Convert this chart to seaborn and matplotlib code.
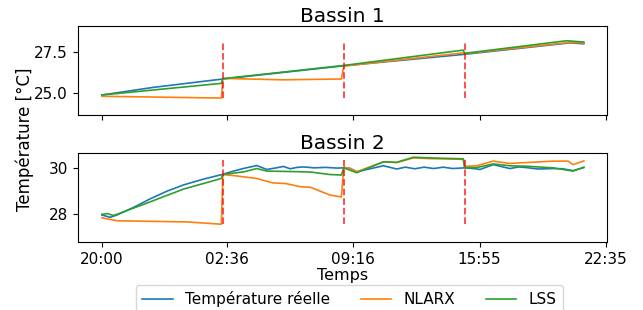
import numpy as np
import pandas as pd
import matplotlib
matplotlib.use("Agg")
import matplotlib.pyplot as plt
import seaborn as sns

# time axis: hours elapsed since 20:00
tick_labels = ["20:00", "02:36", "09:16", "15:55", "22:35"]
switch_times = [6.38, 12.76, 19.13]
series_names = ["Température réelle", "NLARX", "LSS"]

# Bassin 1
b1_real_t = [0, 2.7, 6.38, 12.76, 19.13, 24.0, 24.7, 25.42]
b1_real_v = [24.86, 25.33, 25.85, 26.67, 27.38, 28.0, 28.09, 28.03]
b1_nlarx_t = [0, 6.3, 6.38, 9.5, 12.63, 12.76, 19.06, 19.13, 24.7, 25.42]
b1_nlarx_v = [24.78, 24.67, 25.89, 25.8, 25.85, 26.65, 27.47, 27.42, 28.12, 28.08]
b1_lss_t = [0, 6.3, 6.38, 12.76, 19.06, 19.13, 24.5, 25.42]
b1_lss_v = [24.86, 25.58, 25.87, 26.69, 27.64, 27.44, 28.22, 28.14]

# Bassin 2
b2_real_t = [0, 0.44, 0.79, 1.7, 2.55, 3.4, 4.3, 5.3, 6.33, 6.94, 7.5, 8.17, 8.7, 9.2,
             9.58, 9.93, 10.3, 10.63, 11.2, 11.8, 12.4, 12.76, 13.1, 13.44, 14.2, 14.85,
             15.55, 16.0, 16.5, 17.0, 17.5, 18.0, 18.5, 19.13, 19.6, 19.94, 20.64, 21.1,
             21.52, 22.0, 22.4, 23.0, 23.8, 24.3, 24.85, 25.42]
b2_real_v = [27.96, 27.86, 27.96, 28.3, 28.66, 28.98, 29.26, 29.5, 29.71, 29.86, 29.98,
             30.1, 29.93, 30.0, 30.06, 29.96, 30.02, 30.04, 30.0, 30.02, 29.99, 30.0,
             29.98, 29.83, 29.97, 30.09, 29.95, 30.03, 29.96, 30.03, 29.97, 30.03, 29.97,
             30.0, 29.97, 29.93, 30.14, 30.05, 29.97, 30.04, 30.01, 29.95, 29.97, 29.96,
             29.88, 30.01]
b2_nlarx_t = [0, 0.8, 4.5, 6.3, 6.38, 7.0, 8.17, 9.0, 9.7, 10.5, 11.0, 12.04, 12.63,
              12.76, 13.09, 13.44, 14.85, 15.55, 16.43, 17.3, 19.06, 19.13, 19.76,
              20.64, 21.52, 22.4, 23.8, 24.59, 24.85, 25.42]
b2_nlarx_v = [27.84, 27.71, 27.66, 27.56, 29.71, 29.66, 29.54, 29.35, 29.32, 29.18,
              29.16, 28.82, 28.74, 30.03, 29.97, 29.83, 30.26, 30.23, 30.43, 30.4,
              30.37, 30.06, 30.09, 30.29, 30.19, 30.23, 30.29, 30.29, 30.14, 30.3]
b2_lss_t = [0, 0.3, 0.6, 0.8, 2.55, 4.3, 6.3, 6.38, 7.5, 8.17, 8.7, 10.0, 11.0, 12.04,
            12.63, 12.76, 13.44, 14.85, 15.55, 16.43, 17.3, 19.06, 19.13, 19.76, 20.64,
            21.52, 22.4, 23.8, 24.85, 25.42]
b2_lss_v = [27.99, 28.02, 27.94, 27.99, 28.53, 29.08, 29.54, 29.71, 29.83, 29.97, 29.86,
            29.84, 29.82, 29.71, 29.69, 30.0, 29.79, 30.26, 30.24, 30.46, 30.43, 30.39,
            30.01, 30.01, 30.17, 30.09, 30.07, 30.0, 29.86, 30.03]


def to_hours(label):
    h, m = map(int, label.split(":"))
    return ((h - 20) % 24) + m / 60


tick_pos = [to_hours(l) for l in tick_labels]
tick_pos[-1] += 24  # 22:35 the next day

palette = sns.color_palette("tab10", 3)

panels = [
    ("Bassin 1", [(b1_real_t, b1_real_v), (b1_nlarx_t, b1_nlarx_v), (b1_lss_t, b1_lss_v)],
     (23.62, 29.15), [25.0, 27.5], ["25.0", "27.5"], (24.65, 28.2)),
    ("Bassin 2", [(b2_real_t, b2_real_v), (b2_nlarx_t, b2_nlarx_v), (b2_lss_t, b2_lss_v)],
     (26.8, 30.65), [28, 30], ["28", "30"], (27.56, 30.43)),
]

fig = plt.figure(figsize=(6.43, 3.1), dpi=100)
ax1 = fig.add_axes([0.121, 0.629, 0.823, 0.288])
ax2 = fig.add_axes([0.121, 0.220, 0.823, 0.287], sharex=ax1)

for ax, (title, series, ylim, yticks, ylabels, vrange) in zip([ax1, ax2], panels):
    for (t, v), name, col in zip(series, series_names, palette):
        df = pd.DataFrame({"t": t, "v": v})
        sns.lineplot(data=df, x="t", y="v", ax=ax, color=col, lw=1.2,
                     estimator=None, sort=False, label=name)
    ax.vlines(switch_times, vrange[0], vrange[1], colors="red", linestyles="--",
              lw=1.3, alpha=0.75)
    ax.set_title(title, fontsize=14.5, pad=3)
    ax.set_ylim(*ylim)
    ax.set_yticks(yticks)
    ax.set_yticklabels(ylabels)
    ax.set_ylabel("")
    ax.set_xlabel("")
    ax.tick_params(labelsize=11)
    ax.get_legend().remove()

ax1.set_xlim(-1.27, 26.64)
ax1.set_xticks(tick_pos)
ax1.tick_params(labelbottom=False)
ax2.set_xticklabels(tick_labels)
ax2.set_xlabel("Temps", fontsize=11.5, labelpad=1)

fig.text(0.038, 0.552, "Température [°C]", rotation=90, fontsize=12,
         ha="center", va="center")

handles, labels = ax1.get_legend_handles_labels()
fig.legend(handles, labels, loc="upper center", bbox_to_anchor=(0.5436, 0.0806),
           borderaxespad=0, ncol=3, fontsize=11, frameon=True)

fig.savefig("out.png", dpi=100)
